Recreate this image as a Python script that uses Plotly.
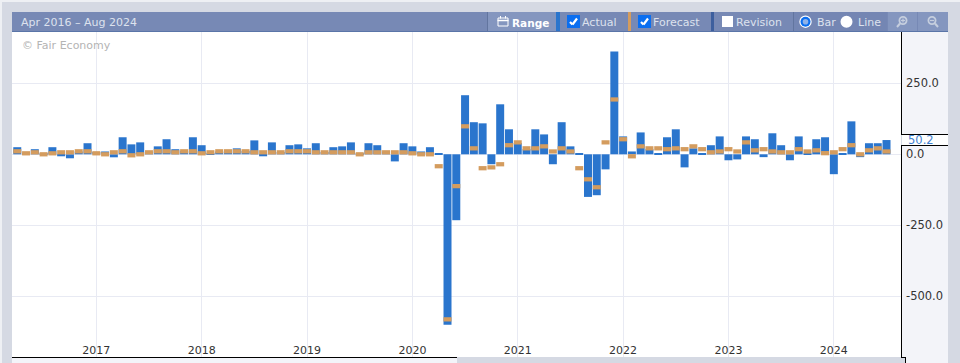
import pandas as pd
import plotly.graph_objects as go

W, H = 960, 363
L, R, T, B = 12, 901, 32, 357

months = [d.strftime("%Y-%m") for d in pd.date_range("2016-04-01", "2024-08-01", freq="MS")]

actual = [25, 5, 18, 3, 25, -7, -14, 10, 39, 8, 10, -10.6, 60, 35, 42, 8, 28, 53, 18, 12,
          60, 32, 5, 10, 12, 21, 12, 49, -7, 42, 8, 32, 35, 21, 39, 8, 25, 28, 42, 3,
          39, 32, 8, -25, 39, 28, 10, 25, 3, -600, -232, 208, 113, 109, -35, 176, 88, 40, 18, 88,
          70, -35, 113, 28, 2, -150, -144, -53, 362, 63, 10, 77, 18, 4, 60, 88, -46, 21, 3, 32,
          63, -21, -18, 63, 53, -10, 74, 32, -21, 63, 4, 53, 60, -70, 2, 116, -10, 39, 39, 50.2, None]
forecast = [10.6, 3.5, 7, 0, 3.5, 7, 7, 10.6, 10.6, 3.5, 0, 7, 10.6, -3.5, 0, 7, 10.6, 10.6, 7, 10.6,
            10.6, 3.5, 7, 10.6, 10.6, 10.6, 10.6, 7, 7, 7, 7, 10.6, 10.6, 10.6, 7, 7, 7, 7, 7, 0,
            7, 7, 7, 7, 7, 3.5, 0, 0, -42, -581, -112, 98.5, 21, -49, -46, -35, 32, 42, 21, 21,
            28, 10, 21, 10, -49, -88, -116, 42, 193, 53, -7, 28, 21, 21, 18, 21, 18, 28, 18, 7,
            10, 18, 10, 42, 14, 18, 10, 7, 7, 18, 10, 14, 4, 7, 18, 32, 0, 14, 21, 10, None]

year_ticks = ["2017-01", "2018-01", "2019-01", "2020-01", "2021-01", "2022-01", "2023-01", "2024-01"]
year_labels = ["2017", "2018", "2019", "2020", "2021", "2022", "2023", "2024"]
y_ticks = [-500, -250, 0, 250]
y_labels = ["-500.0", "-250.0", "0.0", "250.0"]
latest_label = "50.2"
latest_value = 50.2
period_label = "Apr 2016 – Aug 2024"

BAR = "#2a75cd"
FC = "#d49c5e"
PAGE = "#d5d9e3"
HEAD = "#7789b5"
HEADL = "#8496bf"
PANEL = "#f3f4f9"
GRID = "#e8eaf3"
FONT = "DejaVu Sans"
TXT = "#dde2ee"
BAND = 15  # thickness of a forecast tick, in axis units


def px(x):
    return (x - L) / (R - L)


def py(y):
    return (B - y) / (B - T)


shapes = []
ann = []


def rect(x0, y0, x1, y1, fill, layer="above", line=None, w=0):
    shapes.append(dict(type="rect", xref="paper", yref="paper", x0=px(x0), x1=px(x1), y0=py(y0), y1=py(y1),
                       fillcolor=fill, line=dict(color=line or fill, width=w), layer=layer))


def seg(x0, y0, x1, y1, color, w=1, layer="above"):
    shapes.append(dict(type="line", xref="paper", yref="paper", x0=px(x0), x1=px(x1), y0=py(y0), y1=py(y1),
                       line=dict(color=color, width=w), layer=layer))


def circ(cx, cy, r, fill, line=None, w=0):
    shapes.append(dict(type="circle", xref="paper", yref="paper", x0=px(cx - r), x1=px(cx + r), y0=py(cy + r), y1=py(cy - r),
                       fillcolor=fill, line=dict(color=line or fill, width=w), layer="above"))


def label(x, y, text, color=TXT, size=11, bold=False, anchor="left"):
    t = f"<b>{text}</b>" if bold else text
    ann.append(dict(xref="paper", yref="paper", x=px(x), y=py(y), text=t, showarrow=False, xanchor=anchor, yanchor="middle",
                    font=dict(family=FONT, size=size, color=color), borderpad=0, borderwidth=0))


def check(x, y):
    seg(x + 3, y + 7, x + 5.5, y + 9.5, "white", 2.2)
    seg(x + 5.5, y + 9.5, x + 10, y + 3.5, "white", 2.2)


# page furniture
rect(0, 0, 960, 2, "#eef0f4", "below")
rect(0, 0, 2, 363, "#eef0f4", "below")
rect(902, 32, 948, 363, PANEL, "below")
rect(12, 358, 457, 363, PANEL, "below")
rect(457, 358, 905, 363, PAGE, "below")
rect(902, 134, 948, 145, "white", "below")
seg(901.5, 32, 901.5, 134, "black", 1)
seg(901.5, 145, 901.5, 357, "black", 1)
seg(901, 134.5, 948, 134.5, "black", 1)
seg(901, 145.5, 948, 145.5, "black", 1)
seg(12, 357.5, 457, 357.5, "black", 1)
seg(901, 357.5, 905.5, 357.5, "black", 1)
seg(905.5, 357, 905.5, 363, "black", 1)

# toolbar
rect(12, 12, 948, 32, HEAD)
rect(488, 12, 556, 31, HEADL)
rect(556, 12, 560, 31, BAR)
rect(628, 12, 631, 31, FC)
rect(711, 12, 714, 31, "#3d5f9e")
seg(487.5, 12, 487.5, 31, "#62759f")
seg(793.5, 12, 793.5, 31, "#62759f")
rect(794, 12, 887, 31, "#7486b3")
rect(888, 12, 917, 31, HEADL)
rect(918, 12, 948, 31, HEADL)
seg(12, 31.5, 948, 31.5, "#5a75a8", 1)

label(21, 22.5, period_label)
label(22, 45, "© Fair Economy", "#b4b4b4")
label(512, 22.5, "Range", "white", 10.5, True)
label(582, 22.5, "Actual")
label(653, 22.5, "Forecast")
label(736, 22.5, "Revision")
label(817, 22.5, "Bar")
label(858, 22.5, "Line")

# calendar icon
rect(498, 18, 508, 26, HEADL, line="white", w=1)
seg(497.5, 20.5, 508.5, 20.5, "white", 1.5)
seg(500.5, 16, 500.5, 18.5, "white", 1)
seg(505.5, 16, 505.5, 18.5, "white", 1)

# check boxes
rect(567, 15, 580, 28, "#0a6ef0")
check(567, 15)
rect(638, 15, 651, 28, "#0a6ef0")
check(638, 15)
rect(722, 16, 733, 27, "white")

# radios
circ(805.5, 21.7, 6.2, "white")
circ(805.5, 21.7, 5, "#0a6ef0")
circ(805.5, 21.7, 2.8, "#8fb2e8")
circ(846.5, 21.7, 6, "white")

# magnifiers
for cx, plus in ((903, True), (932, False)):
    side = -1 if plus else 1
    circ(cx, 20.5, 3.6, HEADL, "#c5cede", 1.8)
    seg(cx + side * 3, 23.5, cx + side * 6, 27, "#c5cede", 2)
    seg(cx - 2, 20.5, cx + 2, 20.5, "#c5cede", 1.2)
    if plus:
        seg(cx, 18.5, cx, 22.5, "#c5cede", 1.2)

# latest-value label
ann.append(dict(xref="paper", yref="y", x=px(906), y=latest_value, text=latest_label, showarrow=False, xanchor="left",
                yanchor="middle", font=dict(family=FONT, size=11.5, color="#3f82d2")))

fig = go.Figure()
fig.add_bar(x=months, y=actual, marker=dict(color=BAR, line=dict(width=0)), name="Actual")
fig.add_bar(x=months, y=[None if v is None else BAND for v in forecast],
            base=[None if v is None else v - BAND / 2 for v in forecast],
            marker=dict(color=FC, line=dict(width=0)), name="Forecast")

fig.update_layout(
    width=W, height=H, autosize=False,
    margin=dict(l=L, r=W - R, t=T, b=H - B, pad=0),
    paper_bgcolor=PAGE, plot_bgcolor="white",
    showlegend=False, bargap=0.09, barmode="overlay",
    shapes=shapes, annotations=ann,
    font=dict(family=FONT, size=11, color="#333333"),
    xaxis=dict(type="category", categoryorder="array", categoryarray=months,
               range=[-0.6, 100.65], tickmode="array", tickvals=year_ticks, ticktext=year_labels,
               ticklabelposition="inside", ticklabelstandoff=-2, ticks="", showgrid=True, gridcolor=GRID, gridwidth=1,
               showline=False, zeroline=False, tickfont=dict(family=FONT, size=11, color="#333333")),
    yaxis=dict(side="right", range=[-713.5, 430.5], tickmode="array", tickvals=y_ticks, ticktext=y_labels,
               ticks="", ticklen=0, ticklabelstandoff=4, showgrid=True, gridcolor=GRID, gridwidth=1, zeroline=True,
               zerolinecolor=GRID, zerolinewidth=1, showline=False, tickfont=dict(family=FONT, size=11.5, color="#333333")),
)

fig.write_html("out.html", config={"displayModeBar": False},
               post_script="document.body.style.margin='0';document.body.style.background='%s';" % PAGE)
